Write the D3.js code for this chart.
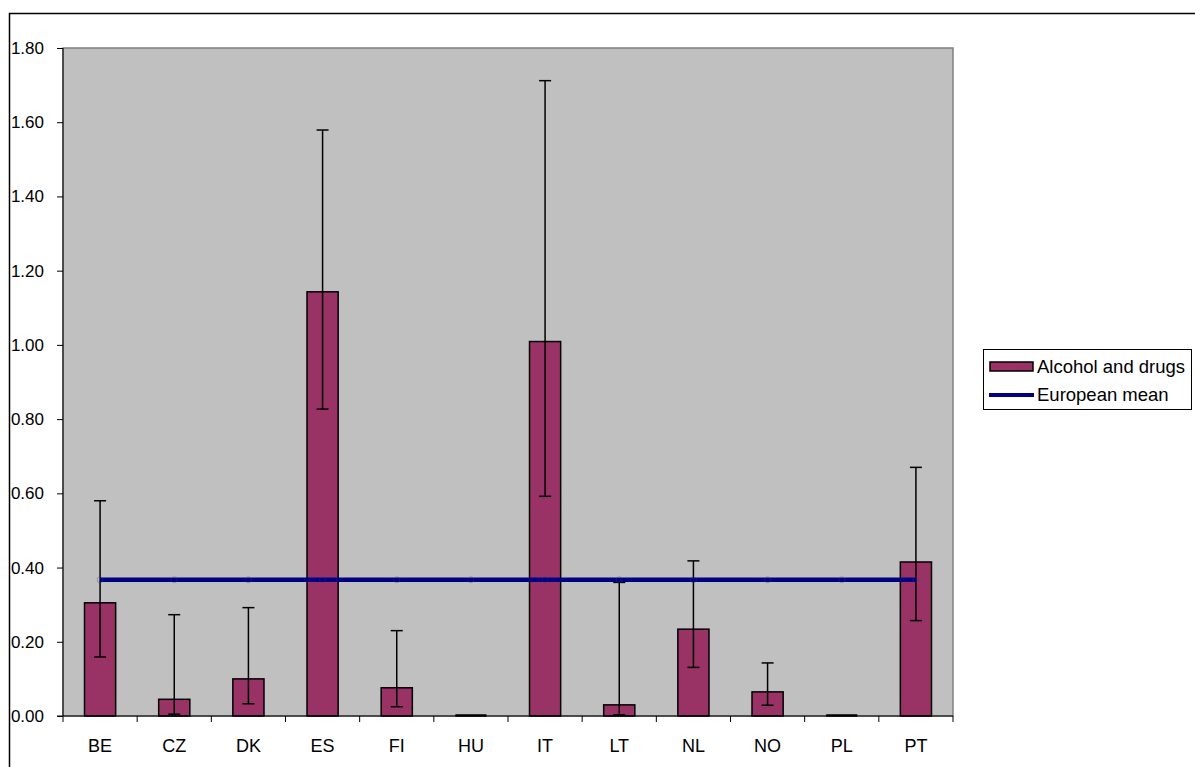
<!DOCTYPE html>
<html lang="en">
<head>
	<meta charset="utf-8">
	<title>Alcohol and drugs</title>
	<script src="https://d3js.org/d3.v7.min.js"></script>
	<style>
	body { margin: 0; background: #fff; }
	svg { font-family: Arial, "Liberation Sans", sans-serif; }
	.axis path, .axis line { stroke: black; stroke-width: 1px; }
	.legend { font-size: 18.5px; }
	</style>
</head>
<body>
	<script>
		// data
		var countries = ["BE", "CZ", "DK", "ES", "FI", "HU", "IT", "LT", "NL", "NO", "PL", "PT"];
		var values    = [0.305, 0.045, 0.100, 1.143, 0.076, 0.000, 1.009, 0.030, 0.234, 0.065, 0.000, 0.415];
		var errLow    = [0.159, 0.005, 0.033, 0.827, 0.025, 0.000, 0.592, 0.003, 0.131, 0.029, 0.000, 0.257];
		var errHigh   = [0.580, 0.273, 0.292, 1.579, 0.230, 0.000, 1.712, 0.360, 0.418, 0.143, 0.000, 0.670];
		var europeanMean = 0.367;
		var yTicks = [0, 0.2, 0.4, 0.6, 0.8, 1.0, 1.2, 1.4, 1.6, 1.8];
		var seriesNames = ["Alcohol and drugs", "European mean"];

		var w = 1195, h = 767;
		var plot = {left: 63, top: 48, right: 953, bottom: 716};

		var svg = d3.select("body")
					.append("svg")
					.attr("width", w)
					.attr("height", h);

		// outer chart border
		svg.append("rect")
			.attr("x", 9.5).attr("y", 13.5)
			.attr("width", w).attr("height", h)
			.attr("fill", "none")
			.attr("stroke", "black")
			.attr("stroke-width", 1.5);

		var x = d3.scaleBand()
				.domain(countries)
				.range([plot.left, plot.right]);

		var y = d3.scaleLinear()
				.domain([0, 1.8])
				.range([plot.bottom, plot.top]);

		// plot area
		svg.append("rect")
			.attr("x", plot.left).attr("y", plot.top)
			.attr("width", plot.right - plot.left)
			.attr("height", plot.bottom - plot.top)
			.attr("fill", "#c0c0c0")
			.attr("stroke", "#808080")
			.attr("stroke-width", 1.5);

		// bars
		var bw = x.bandwidth() * 0.42;
		svg.append("g").selectAll("rect")
			.data(countries)
			.enter().append("rect")
			.attr("x", function(d) { return x(d) + x.bandwidth() / 2 - bw / 2; })
			.attr("y", function(d, i) { return y(values[i]); })
			.attr("width", bw)
			.attr("height", function(d, i) { return y(0) - y(values[i]); })
			.attr("fill", "#993366")
			.attr("stroke", "black")
			.attr("stroke-width", 1.5);

		// zero bars still show as a flat dash
		svg.append("g").selectAll("line")
			.data(countries.filter(function(d, i) { return values[i] === 0; }))
			.enter().append("line")
			.attr("x1", function(d) { return x(d) + x.bandwidth() / 2 - bw / 2; })
			.attr("x2", function(d) { return x(d) + x.bandwidth() / 2 + bw / 2; })
			.attr("y1", y(0) - 0.5).attr("y2", y(0) - 0.5)
			.attr("stroke", "black")
			.attr("stroke-width", 2.5);

		// error bars
		var eb = svg.append("g").attr("stroke", "black").attr("stroke-width", 1.5);
		countries.forEach(function(c, i) {
			if (errHigh[i] === 0) return;
			var cx = x(c) + x.bandwidth() / 2;
			eb.append("line").attr("x1", cx).attr("x2", cx)
				.attr("y1", y(errLow[i])).attr("y2", y(errHigh[i]));
			[errLow[i], errHigh[i]].forEach(function(v) {
				eb.append("line").attr("x1", cx - 6).attr("x2", cx + 6)
					.attr("y1", y(v)).attr("y2", y(v));
			});
		});

		// european mean line
		svg.append("line")
			.attr("x1", x(countries[0]) + x.bandwidth() / 2)
			.attr("x2", x(countries[countries.length - 1]) + x.bandwidth() / 2)
			.attr("y1", y(europeanMean)).attr("y2", y(europeanMean))
			.attr("stroke", "#000080")
			.attr("stroke-width", 4.5);

		// faint markers on the mean line
		svg.append("g").selectAll("circle")
			.data(countries)
			.enter().append("circle")
			.attr("cx", function(d) { return x(d) + x.bandwidth() / 2; })
			.attr("cy", y(europeanMean))
			.attr("r", 3)
			.attr("fill", "none")
			.attr("stroke", "#3a3a8a")
			.attr("stroke-opacity", 0.35)
			.attr("stroke-width", 1);

		// y axis
		var yAxis = svg.append("g")
			.attr("class", "axis")
			.attr("transform", "translate(" + plot.left + ",0)")
			.call(d3.axisLeft(y).tickValues(yTicks).tickFormat(d3.format(".2f")).tickSize(6).tickSizeOuter(0));
		yAxis.select(".domain").remove();
		yAxis.append("line").attr("x1", 0).attr("x2", 0)
			.attr("y1", plot.top).attr("y2", plot.bottom);
		yAxis.selectAll("text")
			.attr("font-size", 17)
			.attr("font-family", "Arial, 'Liberation Sans', sans-serif")
			.attr("fill", "black")
			.attr("x", -19);

		// x axis with ticks between categories
		var xAxis = svg.append("g")
			.attr("class", "axis")
			.attr("transform", "translate(0," + plot.bottom + ")");
		xAxis.append("line")
			.attr("x1", plot.left - 6).attr("x2", plot.right)
			.attr("y1", 0).attr("y2", 0);
		xAxis.selectAll("line.tick")
			.data(countries.concat(["end"]))
			.enter().append("line")
			.attr("class", "tick")
			.attr("x1", function(d, i) { return plot.left + i * x.step(); })
			.attr("x2", function(d, i) { return plot.left + i * x.step(); })
			.attr("y1", 0).attr("y2", 6);
		xAxis.selectAll("text")
			.data(countries)
			.enter().append("text")
			.attr("x", function(d) { return x(d) + x.bandwidth() / 2; })
			.attr("y", 36)
			.attr("text-anchor", "middle")
			.attr("font-size", 18)
			.text(function(d) { return d; });

		// legend
		var legend = svg.append("g").attr("class", "legend");
		legend.append("rect")
			.attr("x", 983.5).attr("y", 349.5)
			.attr("width", 208).attr("height", 60)
			.attr("fill", "white")
			.attr("stroke", "black")
			.attr("stroke-width", 1);
		legend.append("rect")
			.attr("x", 990).attr("y", 362)
			.attr("width", 43).attr("height", 9)
			.attr("fill", "#993366")
			.attr("stroke", "black")
			.attr("stroke-width", 1.5);
		legend.append("line")
			.attr("x1", 989).attr("x2", 1034)
			.attr("y1", 395).attr("y2", 395)
			.attr("stroke", "#000080")
			.attr("stroke-width", 4);
		legend.selectAll("text")
			.data(seriesNames)
			.enter().append("text")
			.attr("x", 1037)
			.attr("y", function(d, i) { return 373 + i * 28; })
			.text(function(d) { return d; });
	</script>
</body>
</html>
